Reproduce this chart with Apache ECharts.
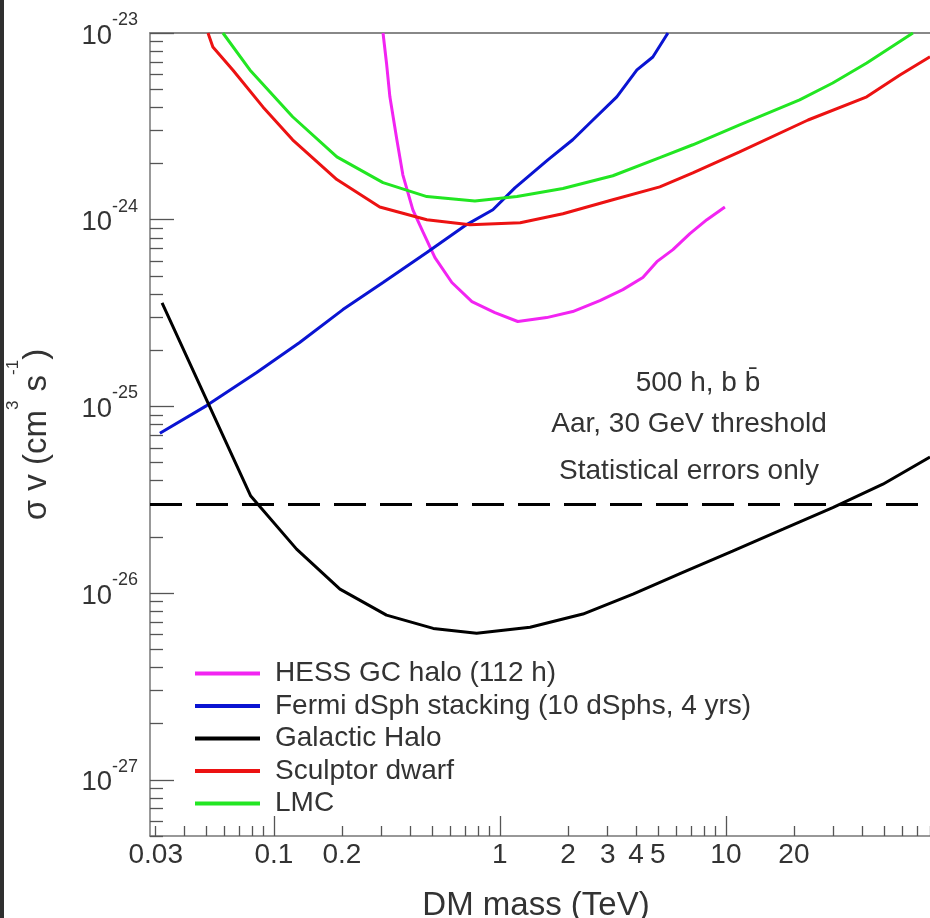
<!DOCTYPE html>
<html>
<head>
<meta charset="utf-8">
<script src="https://cdn.jsdelivr.net/npm/echarts@6/dist/echarts.min.js"></script>
<style>
html, body { margin: 0; padding: 0; background: #ffffff; }
#chart { position: absolute; left: 0; top: 0; width: 930px; height: 918px; }
#edge { position: absolute; left: 0; top: 0; width: 4px; height: 918px; background: #2f2f2f; }
</style>
</head>
<body>
<div id="chart"></div>
<div id="edge"></div>
<script>
// Dark-matter annihilation cross-section limits vs. DM mass (b b-bar channel)

// HESS Galactic Centre halo (112 h)
const hessMass  = [0.304, 0.315, 0.326, 0.350, 0.372, 0.412, 0.456, 0.516, 0.613, 0.752, 0.950, 1.20, 1.61, 2.10, 2.77, 3.50, 4.29, 4.95, 5.83, 6.93, 8.24, 9.90];
const hessSigma = [1.0e-23, 6.89e-24, 4.55e-24, 2.68e-24, 1.74e-24, 1.13e-24, 8.63e-25, 6.26e-25, 4.61e-25, 3.64e-25, 3.18e-25, 2.85e-25, 2.99e-25, 3.22e-25, 3.69e-25, 4.22e-25, 4.90e-25, 5.96e-25, 6.91e-25, 8.42e-25, 1.0e-24, 1.17e-24];

// Fermi dSph stacking (10 dSphs, 4 yrs)
const fermiMass  = [0.0313, 0.0504, 0.0839, 0.130, 0.202, 0.304, 0.475, 0.700, 0.931, 1.165, 1.63, 2.10, 2.58, 3.29, 4.04, 4.75, 5.54];
const fermiSigma = [7.18e-26, 1.01e-25, 1.52e-25, 2.20e-25, 3.30e-25, 4.61e-25, 6.67e-25, 9.29e-25, 1.13e-24, 1.48e-24, 2.09e-24, 2.68e-24, 3.42e-24, 4.55e-24, 6.34e-24, 7.44e-24, 1.0e-23];

// Galactic Halo
const haloMass  = [0.032, 0.079, 0.126, 0.196, 0.315, 0.507, 0.789, 1.36, 2.33, 3.88, 6.45, 10.7, 17.9, 29.7, 49.5, 80];
const haloSigma = [3.58e-25, 3.31e-26, 1.72e-26, 1.05e-26, 7.62e-27, 6.47e-27, 6.09e-27, 6.56e-27, 7.72e-27, 9.88e-27, 1.29e-26, 1.68e-26, 2.20e-26, 2.87e-26, 3.83e-26, 5.35e-26];

// Sculptor dwarf
const sculptorMass  = [0.0511, 0.0537, 0.0658, 0.0894, 0.121, 0.190, 0.294, 0.475, 0.737, 1.23, 1.90, 3.16, 5.10, 7.14, 11.5, 23.1, 42.0, 58.9, 80];
const sculptorSigma = [1.0e-23, 8.42e-24, 6.34e-24, 4.02e-24, 2.68e-24, 1.64e-24, 1.17e-24, 1.0e-24, 9.40e-25, 9.64e-25, 1.077e-24, 1.28e-24, 1.50e-24, 1.78e-24, 2.31e-24, 3.42e-24, 4.55e-24, 5.96e-24, 7.45e-24];

// LMC
const lmcMass  = [0.0595, 0.0783, 0.121, 0.190, 0.304, 0.475, 0.775, 1.19, 1.90, 3.16, 5.10, 7.14, 11.5, 21.2, 29.7, 42.0, 67.2];
const lmcSigma = [1.0e-23, 6.34e-24, 3.56e-24, 2.17e-24, 1.58e-24, 1.33e-24, 1.26e-24, 1.33e-24, 1.47e-24, 1.72e-24, 2.15e-24, 2.52e-24, 3.22e-24, 4.38e-24, 5.40e-24, 6.91e-24, 1.0e-23];

// Thermal relic cross-section (dashed)
const relicSigma = 3.0e-26;

const seriesNames = ['HESS GC halo (112 h)', 'Fermi dSph stacking (10 dSphs, 4 yrs)', 'Galactic Halo', 'Sculptor dwarf', 'LMC'];
const seriesColors = ['#f224f2', '#0a14d2', '#000000', '#ec1212', '#22e622'];

// Axis ranges and ticks
const xMin = 0.0283, xMax = 80;
const yMin = 5e-28, yMax = 1e-23;
const xLabelValues = [0.03, 0.1, 0.2, 1, 2, 3, 4, 5, 10, 20];
const xMajorTicks = [0.1, 1, 10];
const xMinorTicks = [0.03, 0.04, 0.05, 0.06, 0.07, 0.08, 0.09,
                     0.2, 0.3, 0.4, 0.5, 0.6, 0.7, 0.8, 0.9,
                     2, 3, 4, 5, 6, 7, 8, 9,
                     20, 30, 40, 50, 60, 70, 80];
const yMajorTicks = [1e-27, 1e-26, 1e-25, 1e-24, 1e-23];
const yMinorMultipliers = [2, 3, 4, 5, 6, 7, 8, 9];

// The y scale works in units of 1e-28 cm^3 s^-1 so that the axis
// tick logic never sees numbers smaller than its rounding precision.
const Y_UNIT_EXP = -28;
const toUnit = v => v / Math.pow(10, Y_UNIT_EXP);

const yMinorTicks = [];
for (let e = -28; e <= -24; e++) {
  yMinorMultipliers.forEach(k => {
    const v = toUnit(k * Math.pow(10, e));
    if (v >= toUnit(yMin) * 0.999 && v <= toUnit(yMax) * 1.001) yMinorTicks.push(v);
  });
}

const FONT = '"Liberation Sans", Arial, Helvetica, sans-serif';
const TEXT = '#333333';
const AXIS = '#777777';
const TICK = '#555555';

function pairs(xs, ys) { return xs.map((x, i) => [x, toUnit(ys[i])]); }

function powerLabel(v) {
  const e = Math.round(Math.log10(v)) + Y_UNIT_EXP;
  return '{b|10}{s|' + e + '}';
}

const chart = echarts.init(document.getElementById('chart'), null, { renderer: 'canvas' });

const lineSeries = [
  [hessMass, hessSigma],
  [fermiMass, fermiSigma],
  [haloMass, haloSigma],
  [sculptorMass, sculptorSigma],
  [lmcMass, lmcSigma]
].map(function (d, i) {
  const s = {
    name: seriesNames[i],
    type: 'line',
    xAxisIndex: 0,
    yAxisIndex: 0,
    data: pairs(d[0], d[1]),
    color: seriesColors[i],
    symbol: 'none',
    showSymbol: false,
    smooth: false,
    clip: true,
    silent: true,
    lineStyle: { width: 3, color: seriesColors[i] },
    itemStyle: { color: seriesColors[i] }
  };
  if (i === 2) {
    s.markLine = {
      silent: true,
      symbol: ['none', 'none'],
      label: { show: false },
      lineStyle: { color: '#000000', width: 3, type: [32, 14] },
      data: [{ yAxis: toUnit(relicSigma) }]
    };
  }
  return s;
});

chart.setOption({
  animation: false,
  backgroundColor: '#ffffff',
  textStyle: { fontFamily: FONT },
  grid: { left: 150, right: 0, top: 33, bottom: 82, containLabel: false, outerBoundsMode: 'none' },
  xAxis: [
    {
      type: 'log', min: xMin, max: xMax, position: 'bottom',
      axisLine: { show: true, lineStyle: { color: AXIS, width: 1.5 } },
      axisTick: { show: true, inside: true, length: 20, customValues: xMajorTicks, lineStyle: { color: TICK, width: 1.3 } },
      minorTick: { show: false },
      splitLine: { show: false },
      axisLabel: {
        customValues: xLabelValues,
        formatter: function (v) { return String(Number(v.toPrecision(3))); },
        margin: 5, fontSize: 28, color: TEXT, fontFamily: FONT
      },
      name: 'DM mass (TeV)', nameLocation: 'middle', nameGap: 53,
      nameTextStyle: { fontSize: 33, color: TEXT, fontFamily: FONT, padding: [0, 8, 0, 0] }
    },
    {
      type: 'log', min: xMin, max: xMax, position: 'bottom',
      axisLine: { show: false },
      axisTick: { show: true, inside: true, length: 10, customValues: xMinorTicks, lineStyle: { color: TICK, width: 1.3 } },
      axisLabel: { show: false },
      minorTick: { show: false },
      splitLine: { show: false }
    },
    {
      type: 'log', min: xMin, max: xMax, position: 'top',
      axisLine: { show: true, lineStyle: { color: '#888888', width: 2 } },
      axisTick: { show: false },
      axisLabel: { show: false },
      minorTick: { show: false },
      splitLine: { show: false }
    }
  ],
  yAxis: [
    {
      type: 'log', min: toUnit(yMin), max: toUnit(yMax), position: 'left',
      axisLine: { show: true, lineStyle: { color: AXIS, width: 1.5 } },
      axisTick: { show: true, inside: true, length: 24, customValues: yMajorTicks.map(toUnit), lineStyle: { color: TICK, width: 1.3 } },
      minorTick: { show: false },
      splitLine: { show: false },
      axisLabel: {
        customValues: yMajorTicks.map(toUnit),
        formatter: powerLabel,
        margin: 12,
        padding: [0, 0, 5, 0],
        rich: {
          b: { fontSize: 27.5, height: 28, lineHeight: 39, verticalAlign: 'bottom', color: TEXT, fontFamily: FONT },
          s: { fontSize: 18, height: 18, lineHeight: 18, verticalAlign: 'top', color: TEXT, fontFamily: FONT }
        }
      },
      name: '{t|σ v (cm}{p|3}{t| s}{p|-1}{t|)}',
      nameLocation: 'middle', nameGap: 121,
      nameTextStyle: {
        verticalAlign: 'middle',
        rich: {
          t: { fontSize: 33, height: 33, lineHeight: 49, verticalAlign: 'bottom', color: TEXT, fontFamily: FONT },
          p: { fontSize: 17, height: 17, lineHeight: 17, verticalAlign: 'top', color: TEXT, fontFamily: FONT }
        }
      }
    },
    {
      type: 'log', min: toUnit(yMin), max: toUnit(yMax), position: 'left',
      axisLine: { show: false },
      axisTick: { show: true, inside: true, length: 13, customValues: yMinorTicks, lineStyle: { color: TICK, width: 1.3 } },
      axisLabel: { show: false },
      minorTick: { show: false },
      splitLine: { show: false }
    }
  ],
  legend: {
    orient: 'vertical', left: 195, top: 658.5, padding: 0,
    icon: 'rect', itemWidth: 65, itemHeight: 4, itemGap: 2.5,
    selectedMode: false,
    data: seriesNames,
    textStyle: { fontSize: 28, lineHeight: 30, color: TEXT, fontFamily: FONT, padding: [0, 0, 0, 10] }
  },
  graphic: [
    { type: 'text', x: 698, y: 383, style: { text: '500 h, b b\u0304', font: '28px ' + FONT, fill: TEXT, align: 'center', verticalAlign: 'middle' } },
    { type: 'text', x: 689, y: 424, style: { text: 'Aar, 30 GeV threshold', font: '28px ' + FONT, fill: TEXT, align: 'center', verticalAlign: 'middle' } },
    { type: 'text', x: 689, y: 471, style: { text: 'Statistical errors only', font: '28px ' + FONT, fill: TEXT, align: 'center', verticalAlign: 'middle' } }
  ],
  series: lineSeries
});
</script>
</body>
</html>
